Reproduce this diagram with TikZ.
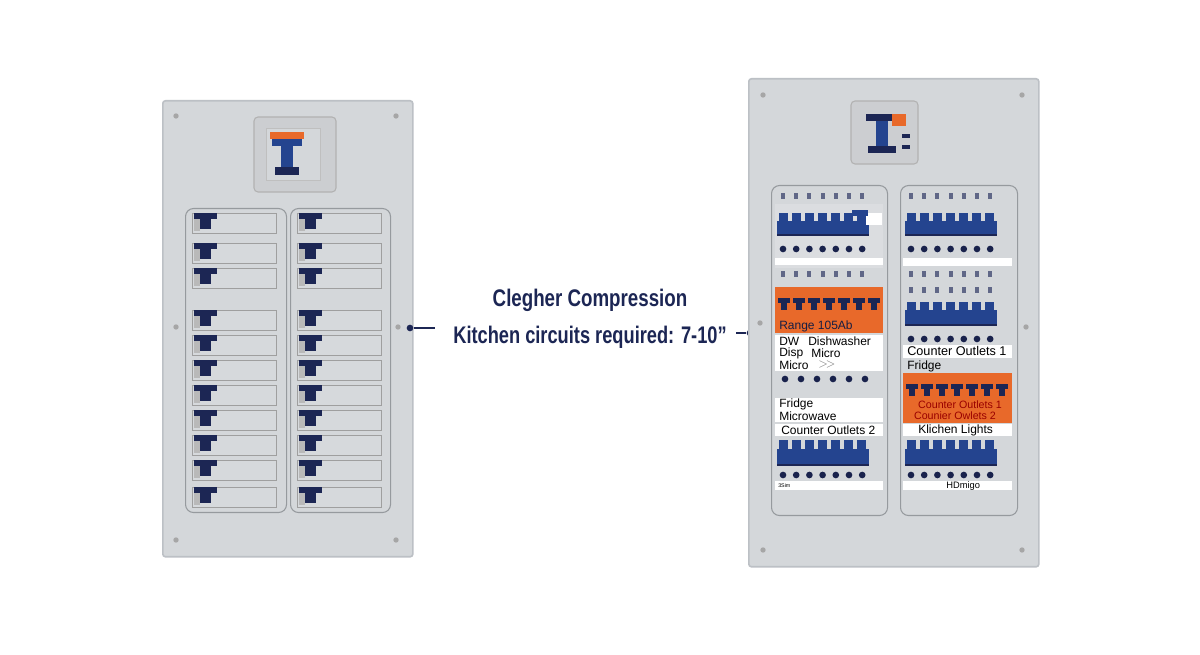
\documentclass[tikz,border=0pt]{standalone}
\usepackage{fontspec}
\setmainfont{Liberation Sans}
\begin{document}
\begin{tikzpicture}[x=0.75pt,y=-0.75pt,
  panel/.style={fill=panelc,draw=edgec,line width=1.2pt,rounded corners=2pt},
  grp/.style={draw=edgec!80!black,line width=0.8pt,rounded corners=6pt},
  screw/.style={circle,fill=gray!70,inner sep=0pt,minimum size=4pt},
  slot/.style={draw=gray!75,fill=panelc!95!white,line width=0.6pt},
  wstrip/.style={fill=white,draw=none},
  lbl/.style={font=\fontsize{9}{9}\selectfont,anchor=west,inner sep=0pt},
  dotc/.style={circle,fill=navyc!90!black,inner sep=0pt,minimum size=5pt}]
\definecolor{panelc}{HTML}{D4D7DA}
\definecolor{edgec}{HTML}{BCC0C5}
\definecolor{bluec}{HTML}{24448F}
\definecolor{navyc}{HTML}{1C2654}
\definecolor{orangec}{HTML}{E8692A}
\useasboundingbox[fill=white] (0,0) rectangle (1200,655);
% ---------- left panel
\node[panel,minimum width=250*0.75pt,minimum height=456*0.75pt,anchor=north west,inner sep=0pt] (lp) at (162,100) {};
\foreach \x/\y in {176/116,396/116,176/540,396/540,176/327,398/327} \node[screw] at (\x,\y) {};
\draw[fill=panelc!90!gray,draw=gray!60,rounded corners=3pt,line width=0.8pt] (254,117) rectangle (336,192);
\draw[fill=panelc,draw=gray!50] (266,128) rectangle (320,180);
\fill[orangec] (270,132) rectangle (304,139);
\fill[bluec] (272,139) rectangle (302,146);
\fill[bluec] (281,146) rectangle (293,167);
\fill[navyc] (275,167) rectangle (299,175);
\node[grp,minimum width=101*0.75pt,minimum height=304*0.75pt,anchor=north west] (lg1) at (185,208) {};
\node[grp,minimum width=100*0.75pt,minimum height=304*0.75pt,anchor=north west] (lg2) at (290,208) {};
\foreach \y in {213,243,268,310,335,360,385,410,435,460,487}{
  \foreach \x in {192,297}{
    \draw[slot] (\x,\y) rectangle (\x+84,\y+20);
    \fill[gray!55] (\x+2,\y+2) rectangle (\x+8,\y+18);
    \fill[navyc] (\x+2,\y) rectangle (\x+25,\y+6);
    \fill[navyc] (\x+8,\y+6) rectangle (\x+19,\y+16);
  }}
% ---------- center
\node[font=\fontsize{18}{18}\selectfont\bfseries,text=navyc,xscale=0.78,inner sep=0pt] (t1) at (590,300) {Clegher Compression};
\node[font=\fontsize{18}{18}\selectfont\bfseries,text=navyc,xscale=0.76,inner sep=0pt] (t2) at (590,337) {Kitchen circuits required: 7-10”};
\node[circle,fill=navyc,inner sep=0pt,minimum size=5pt] (d1) at (410,328) {};
\coordinate (c1) at (435,328);
\draw[navyc,line width=1.5pt] (d1) -- (c1);
\coordinate (c2) at (736,333);
\node[circle,fill=navyc,inner sep=0pt,minimum size=5pt] (d2) at (750,333) {};
\draw[navyc,line width=1.5pt] (c2) -- (d2);
% ---------- right panel
\node[panel,minimum width=290*0.75pt,minimum height=488*0.75pt,anchor=north west,inner sep=0pt] (rp) at (748,78) {};
\foreach \x/\y in {763/95,1022/95,763/550,1022/550,760/323,1026/327} \node[screw] at (\x,\y) {};
\draw[fill=panelc!90!gray,draw=gray!60,rounded corners=3pt,line width=0.8pt] (851,101) rectangle (918,164);
\fill[navyc] (866,114) rectangle (898,121);
\fill[orangec] (892,114) rectangle (906,126);
\fill[bluec] (876,121) rectangle (888,146);
\fill[navyc] (868,146) rectangle (896,153);
\fill[navyc] (902,134) rectangle (910,138);\fill[navyc] (902,145) rectangle (910,149);
\node[grp,minimum width=116*0.75pt,minimum height=330*0.75pt,anchor=north west] (rg1) at (771,185) {};
\node[grp,minimum width=117*0.75pt,minimum height=330*0.75pt,anchor=north west] (rg2) at (900,185) {};
\newcommand{\brkrow}[3]{%
  \fill[bluec] (#1,#2+#3*0.35) rectangle (#1+92,#2+#3);
  \foreach \i in {0,...,6}{\fill[bluec] (#1+2+\i*13,#2) rectangle (#1+11+\i*13,#2+#3);}
  \draw[navyc,line width=1pt] (#1,#2+#3) -- (#1+92,#2+#3);}
\newcommand{\dotrow}[2]{\foreach \i in {0,...,6}{\node[dotc] at (#1+6+\i*13.2,#2) {};}}
\newcommand{\tinyrow}[2]{\foreach \i in {0,...,6}{\fill[navyc!70] (#1+4+\i*13.2,#2-3) rectangle (#1+8+\i*13.2,#2+3);}}
\newcommand{\trow}[2]{\foreach \i in {0,...,6}{\fill[navyc] (#1+1+\i*15,#2) rectangle (#1+13+\i*15,#2+5);\fill[navyc] (#1+4+\i*15,#2+5) rectangle (#1+10+\i*15,#2+12);}}
% left group
\fill[panelc!85!white] (775,204) rectangle (883,268);
\tinyrow{777}{196}
\brkrow{777}{213}{22}
\fill[white] (866,213) rectangle (882,225);
\fill[bluec] (852,210) rectangle (868,216);
\dotrow{777}{249}
\fill[wstrip] (775,258) rectangle (883,265);
\tinyrow{777}{274}
\fill[orangec] (775,287) rectangle (883,333);
\trow{777}{298}
\node[lbl,text=navyc!80!black] at (779,326) {Range 105Ab};
\fill[wstrip] (775,335) rectangle (883,371);
\node[lbl] at (779,341) {DW};\node[lbl] at (808,341) {Dishwasher};
\node[lbl] at (779,353) {Disp};\node[lbl] at (811,353) {Micro};
\node[lbl] at (779,365) {Micro};\node[lbl,text=gray] at (818,365) {$>\!>$};
\foreach \i in {0,...,5}{\node[dotc] at (785+\i*16,379) {};}
\fill[wstrip] (775,398) rectangle (883,422);
\node[lbl] at (779,404) {Fridge};\node[lbl] at (779,416) {Microwave};
\fill[wstrip] (775,424) rectangle (883,436);
\node[lbl] at (781,430) {Counter Outlets 2};
\brkrow{777}{440}{25}
\dotrow{777}{475}
\fill[wstrip] (775,481) rectangle (883,490);
\node[lbl,font=\fontsize{4}{4}\selectfont] at (778,486) {3Sim};
% right group
\tinyrow{905}{196}
\brkrow{905}{213}{22}
\dotrow{905}{249}
\fill[wstrip] (903,258) rectangle (1012,266);
\tinyrow{905}{274}
\tinyrow{905}{290}
\brkrow{905}{302}{23}
\dotrow{905}{339}
\fill[wstrip] (903,345) rectangle (1012,358);
\node[lbl,font=\fontsize{9.5}{9.5}\selectfont] at (907,351) {Counter Outlets 1};
\node[lbl] at (907,366) {Fridge};
\fill[orangec] (903,373) rectangle (1012,423);
\trow{905}{384}
\node[font=\fontsize{8}{8}\selectfont,text=red!60!black,inner sep=0pt] at (960,405) {Counter Outlets 1};
\node[font=\fontsize{8}{8}\selectfont,text=red!60!black,inner sep=0pt] at (955,416) {Counier Owlets 2};
\fill[wstrip] (903,424) rectangle (1012,436);
\node[lbl] at (918,430) {Klichen Lights};
\brkrow{905}{440}{25}
\dotrow{905}{475}
\fill[wstrip] (903,481) rectangle (1012,490);
\node[lbl,font=\fontsize{7}{7}\selectfont] at (946,486) {HDmigo};
\end{tikzpicture}
\end{document}
